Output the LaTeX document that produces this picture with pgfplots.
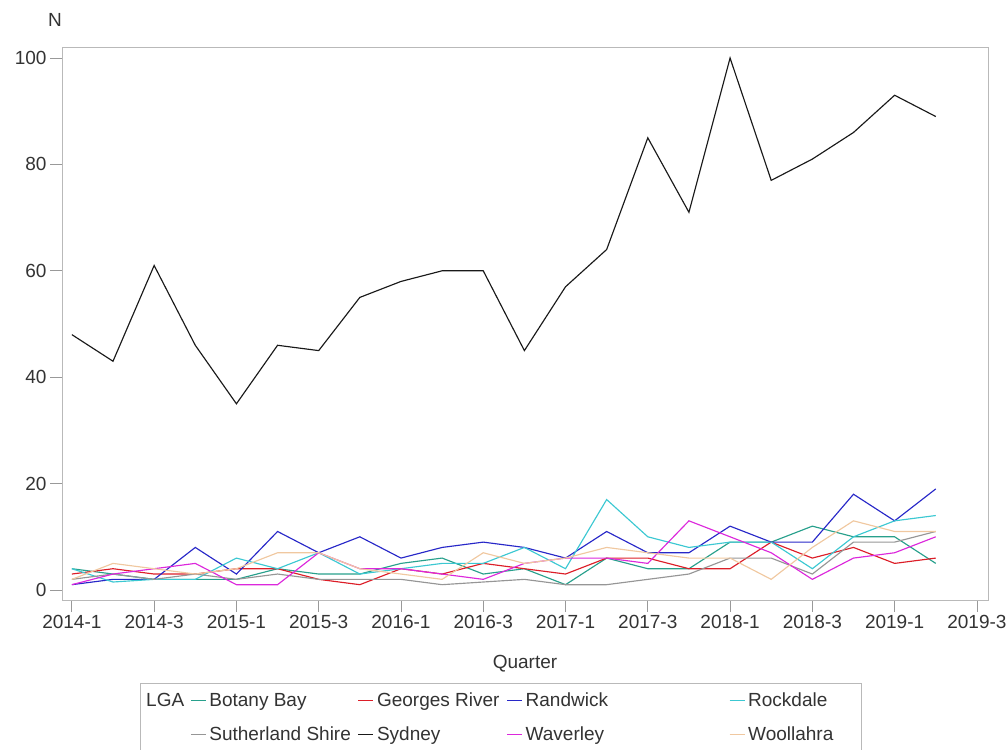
\documentclass[border=0pt]{standalone}
\usepackage{fontspec}
\setmainfont{Liberation Sans}
\usepackage{pgfplots}
\usepackage{pgfplotstable}
\pgfplotsset{compat=1.18}

\definecolor{cBB}{RGB}{40,160,140}
\definecolor{cGR}{RGB}{220,30,40}
\definecolor{cRA}{RGB}{40,40,200}
\definecolor{cRO}{RGB}{60,200,210}
\definecolor{cSU}{RGB}{150,150,150}
\definecolor{cSY}{RGB}{25,25,25}
\definecolor{cWA}{RGB}{220,40,220}
\definecolor{cWO}{RGB}{240,200,160}

% q = quarter index, 0 = 2014-1
\pgfplotstableread{
q  sy  ra  ro  bb  gr  su  wa  wo
0  48  1   4   4   3   2   1   2
1  43  2   1.5 3   4   3   3   5
2  61  2   2   2   3   2   4   4
3  46  8   2   2   3   3   5   3
4  35  3   6   2   4   2   1   4
5  46  11  4   4   4   3   1   7
6  45  7   7   3   2   2   7   7
7  55  10  3   3   1   2   4   4
8  58  6   4   5   4   2   4   3
9  60  8   5   6   3   1   3   2
10 60  9   5   3   5   1.5 2   7
11 45  8   8   4   4   2   5   5
12 57  6   4   1   3   1   6   6
13 64  11  17  6   6   1   6   8
14 85  7   10  4   6   2   5   7
15 71  7   8   4   4   3   13  6
16 100 12  9   9   4   6   10  6
17 77  9   9   9   9   6   7   2
18 81  9   4   12  6   3   2   8
19 86  18  10  10  8   9   6   13
20 93  13  13  10  5   9   7   11
21 89  19  14  5   6   11  10  11
}\lga

\begin{document}
\begin{tikzpicture}
\useasboundingbox (0pt,0pt) rectangle (1008pt,749pt);
\begin{axis}[
    at={(62pt,149pt)}, anchor=south west,
    scale only axis, width=926pt, height=553pt,
    font=\fontsize{19}{23}\selectfont,
    /pgf/number format/assume math mode=true,
    xmin=-0.24, xmax=22.27,
    ymin=-1.88, ymax=102.07,
    xtick={0,2,...,22},
    xticklabels={2014-1,2014-3,2015-1,2015-3,2016-1,2016-3,2017-1,2017-3,2018-1,2018-3,2019-1,2019-3},
    ytick={0,20,...,100},
    tick align=outside, xtick pos=bottom, ytick pos=left,
    major tick length=12pt,
    axis line style={gray!55},
    major tick style={gray!80, line width=0.8pt},
    tick label style={color=black!80},
    xlabel={Quarter}, ylabel={N},
    every axis x label/.style={at={(axis description cs:0.5,0)}, anchor=north, yshift=-52pt, color=black!80},
    every axis y label/.style={at={(axis description cs:0,1)}, anchor=south, xshift=-7pt, yshift=17pt, color=black!80},
    legend columns=5,
    legend cell align=left,
    legend image code/.code={\draw[#1] (0pt,0pt) -- (15pt,0pt);},
    legend style={at={(rel axis cs:0,0)}, anchor=north west, xshift=78pt, yshift=-83pt,
        draw=gray!55, inner sep=3pt, row sep=4pt,
        nodes={inner xsep=3pt, inner ysep=7pt, text=black!80},
        /tikz/column 2/.style={column sep=3pt},
        /tikz/column 4/.style={column sep=4pt},
        /tikz/column 6/.style={column sep=4pt},
        /tikz/column 8/.style={column sep=118pt}},
]
\addlegendimage{empty legend}\addlegendentry{LGA}
\addplot[cBB, line width=1.15pt] table[x=q, y=bb] {\lga}; \addlegendentry{Botany Bay}
\addplot[cGR, line width=1.15pt] table[x=q, y=gr] {\lga}; \addlegendentry{Georges River}
\addplot[cRA, line width=1.15pt] table[x=q, y=ra] {\lga}; \addlegendentry{Randwick}
\addplot[cRO, line width=1.15pt] table[x=q, y=ro] {\lga}; \addlegendentry{Rockdale}
\addlegendimage{empty legend}\addlegendentry{}
\addplot[cSU, line width=1.15pt] table[x=q, y=su] {\lga}; \addlegendentry{Sutherland Shire}
\addplot[cSY, line width=1.15pt] table[x=q, y=sy] {\lga}; \addlegendentry{Sydney}
\addplot[cWA, line width=1.15pt] table[x=q, y=wa] {\lga}; \addlegendentry{Waverley}
\addplot[cWO, line width=1.15pt] table[x=q, y=wo] {\lga}; \addlegendentry{Woollahra\hspace*{22pt}}
\end{axis}
\end{tikzpicture}
\end{document}
